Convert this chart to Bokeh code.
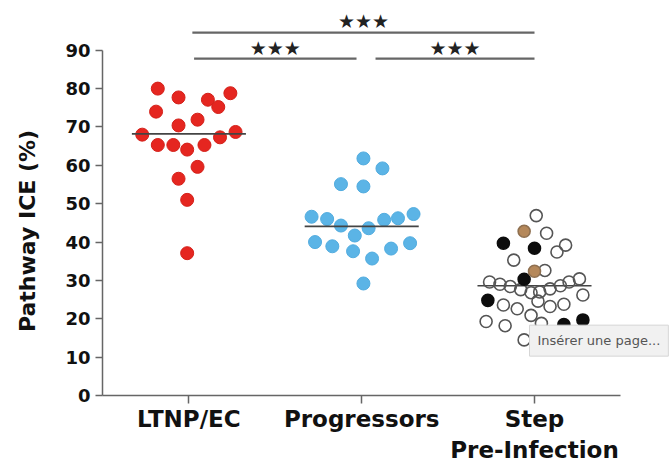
import numpy as np
from bokeh.plotting import figure
from bokeh.models import FixedTicker, Range1d, Label, ColumnDataSource
from bokeh.embed import file_html
from bokeh.resources import INLINE
from bokeh.core.properties import value

# ---------------- data ----------------
categories = ["LTNP/EC", "Progressors", "Step\nPre-Infection"]
y_ticks = [0, 10, 20, 30, 40, 50, 60, 70, 80, 90]

ltnp_values = [80.0, 77.7, 77.1, 78.8, 75.2, 74.0, 71.9, 70.4, 68.0, 68.7,
               67.3, 65.3, 65.3, 64.1, 65.3, 59.6, 56.5, 51.0, 37.1]
ltnp_jitter = [-0.18, -0.06, 0.11, 0.24, 0.17, -0.19, 0.05, -0.06, -0.27, 0.27,
               0.18, -0.18, -0.09, -0.01, 0.09, 0.05, -0.06, -0.01, -0.01]

prog_values = [61.8, 59.2, 55.1, 54.5, 46.6, 46.0, 44.3, 41.7, 43.6, 45.8,
               46.2, 47.3, 40.0, 38.9, 37.6, 35.7, 38.3, 39.7, 29.2]
prog_jitter = [0.01, 0.12, -0.12, 0.01, -0.29, -0.20, -0.12, -0.04, 0.04, 0.13,
               0.21, 0.30, -0.27, -0.17, -0.05, 0.06, 0.17, 0.28, 0.01]

step_values = [46.9, 42.8, 42.3, 39.7, 38.4, 39.2, 37.4, 35.3, 32.4, 32.6,
               30.3, 29.6, 29.0, 28.4, 27.6, 26.8, 27.0, 27.8, 28.6, 29.6,
               30.4, 26.2, 24.8, 23.6, 22.6, 20.9, 24.6, 23.2, 23.8, 19.3,
               18.2, 18.8, 18.5, 19.7, 14.5]
step_jitter = [0.01, -0.06, 0.07, -0.18, 0.00, 0.18, 0.13, -0.12, 0.00, 0.06,
               -0.06, -0.26, -0.20, -0.14, -0.08, -0.02, 0.03, 0.09, 0.15, 0.20,
               0.26, 0.28, -0.27, -0.18, -0.10, -0.02, 0.02, 0.09, 0.17, -0.28,
               -0.17, 0.04, 0.17, 0.28, -0.06]
step_kind = ["open", "tan", "open", "black", "black", "open", "open", "open", "tan", "open",
             "black", "open", "open", "open", "open", "open", "open", "open", "open", "open",
             "open", "open", "black", "open", "open", "open", "open", "open", "open", "open",
             "open", "open", "black", "black", "open"]

medians = [68.2, 44.1, 28.6]

comparisons = [(1, 3), (1, 2), (2, 3)]
significance = ["★★★", "★★★", "★★★"]

# ---------------- figure ----------------
FONT = "DejaVu Sans"

p = figure(width=670, height=465, output_backend="svg", toolbar_location=None,
           x_range=Range1d(0.5, 3.787), y_range=Range1d(0, 102.97),
           min_border_left=102, min_border_right=0, min_border_top=0,
           min_border_bottom=68)
p.outline_line_color = None
p.xgrid.visible = False
p.ygrid.visible = False
p.background_fill_color = "white"
p.border_fill_color = "white"

# axes
yax = p.yaxis[0]
yax.ticker = FixedTicker(ticks=y_ticks)
yax.bounds = (0, 90)
yax.axis_label = "Pathway ICE (%)" + "\u2003" * 3
yax.axis_label_text_font = FONT
yax.axis_label_text_font_style = "bold"
yax.axis_label_text_font_size = "22px"
yax.axis_label_text_color = "#111111"
yax.axis_label_standoff = 22
yax.major_label_text_font = FONT
yax.major_label_text_font_style = "bold"
yax.major_label_text_font_size = "18px"
yax.major_label_text_color = "#111111"
yax.major_label_standoff = 5

xax = p.xaxis[0]
xax.ticker = FixedTicker(ticks=[1, 2, 3])
xax.bounds = (0.5, 3.5)
xax.major_label_overrides = {i + 1: c for i, c in enumerate(categories)}
xax.major_label_text_font = FONT
xax.major_label_text_font_style = "bold"
xax.major_label_text_font_size = "23px"
xax.major_label_text_color = "#111111"
xax.major_label_text_line_height = 1.2
xax.major_label_standoff = 2

for ax in (xax, yax):
    ax.axis_line_color = "#666666"
    ax.axis_line_width = 1.5
    ax.major_tick_line_color = "#666666"
    ax.major_tick_line_width = 1.5
    ax.major_tick_out = 7
    ax.major_tick_in = 0
    ax.minor_tick_line_color = None
xax.major_tick_out = 8

# points
red = ColumnDataSource(dict(x=1 + np.array(ltnp_jitter), y=ltnp_values))
p.scatter("x", "y", source=red, size=13, fill_color="#E52620", line_color="#D42019", line_width=1)

blue = ColumnDataSource(dict(x=2 + np.array(prog_jitter), y=prog_values))
p.scatter("x", "y", source=blue, size=13, fill_color="#5BB4E6", line_color="#52ACDF", line_width=1)

sx = 3 + np.array(step_jitter)
sv = np.array(step_values)
kinds = np.array(step_kind)

# medians
mx = np.array([1, 2, 3])
p.segment(x0=mx - 0.33, x1=mx + 0.33, y0=medians, y1=medians, line_color="#444444", line_width=1.6)

for kind, fill, line in [("open", None, "#555555"), ("black", "#0d0d0d", "#0d0d0d"), ("tan", "#B5885A", "#8f7050")]:
    m = kinds == kind
    src = ColumnDataSource(dict(x=sx[m], y=sv[m]))
    p.scatter("x", "y", source=src, size=12, fill_color=fill, line_color=line, line_width=1.6)

# significance brackets
bracket_y = [94.6, 87.8, 87.8]
gap_l = [0.02, 0.03, 0.08]
gap_r = [0.0, 0.03, 0.0]
x0 = [a + g for (a, b), g in zip(comparisons, gap_l)]
x1 = [b - g for (a, b), g in zip(comparisons, gap_r)]
p.segment(x0=x0, x1=x1, y0=bracket_y, y1=bracket_y, line_color="#666666", line_width=2.2)
star_x = [(a + b) / 2 for a, b in zip(x0, x1)]
star_y = [yy + 2.9 for yy in bracket_y]
p.text(x=star_x, y=star_y, text=significance, text_font=value(FONT), text_font_size="19px",
       text_align="center", text_baseline="middle", text_color="#222222")

# tooltip artifact present in the reference screenshot
tip = Label(x=2.971, y=14.3, text="Insérer une page...", text_font=FONT, text_font_size="13px",
            text_color="#555555", text_baseline="middle", text_align="left",
            background_fill_color="#f1f1f1", border_line_color="#d6d6d6", padding=8)
p.add_layout(tip)

open("out.html", "w").write(file_html(p, INLINE))
